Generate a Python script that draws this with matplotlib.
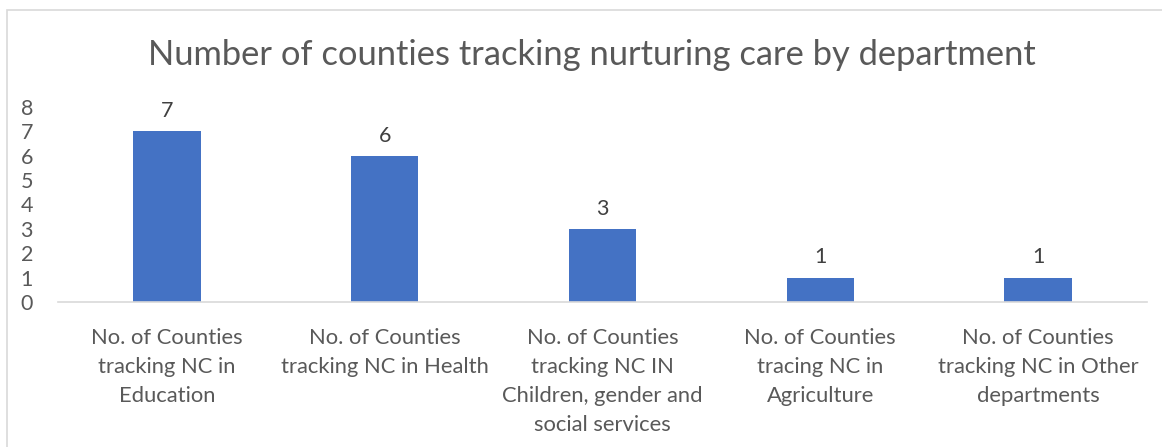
#!/usr/bin/env python3

import matplotlib.pyplot as plt
from matplotlib.patches import Rectangle


# data
categories = ['No. of Counties\ntracking NC in\nEducation',
              'No. of Counties\ntracking NC in Health',
              'No. of Counties\ntracking NC IN\nChildren, gender and\nsocial services',
              'No. of Counties\ntracing NC in\nAgriculture',
              'No. of Counties\ntracking NC in Other\ndepartments']
counts = [7, 6, 3, 1, 1]
y_ticks = [0, 1, 2, 3, 4, 5, 6, 7, 8]

TEXT = '#595959'
plt.rcParams['font.family'] = ['Lato', 'DejaVu Sans']

fig = plt.figure(figsize=(11.62, 4.47), dpi=100)
W, H = 1162, 447
ax = fig.add_axes([58 / W, 1 - 302 / H, (1147 - 58) / W, (302 - 107) / H])

x = list(range(len(counts)))
bars = ax.bar(x, counts, width=0.31, color='#4472C4', zorder=2)
for xi, v in zip(x, counts):
    ax.text(xi, v + 0.42, str(v), ha='center', va='bottom', fontsize=15.5, color='#404040')

ax.set_xlim(-0.5, len(counts) - 0.5)
ax.set_ylim(0, 8)
ax.set_yticks(y_ticks)
ax.set_yticklabels([str(t) for t in y_ticks], fontsize=15.5, color=TEXT)
ax.set_xticks(x)
ax.set_xticklabels(categories, fontsize=15.8, color=TEXT, linespacing=1.55)
ax.tick_params(axis='y', length=0, pad=18)
ax.tick_params(axis='x', length=0, pad=19)
for s in ['top', 'right', 'left']:
    ax.spines[s].set_visible(False)
ax.spines['bottom'].set_color('#D9D9D9')
ax.spines['bottom'].set_linewidth(1.2)

fig.text(592 / W, 1 - 55 / H, 'Number of counties tracking nurturing care by department',
         ha='center', va='center', fontsize=24.8, color=TEXT)

# chart border (runs past right and bottom edge like the reference crop)
fig.patches.append(Rectangle((7 / W, -0.05), 1.1, 1 - 10 / H + 0.05, transform=fig.transFigure,
                             fill=False, edgecolor='#D9D9D9', linewidth=1.2))

plt.savefig('out.png', dpi=100)
